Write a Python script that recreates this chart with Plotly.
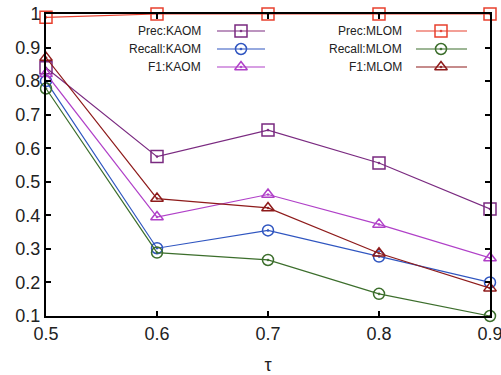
import plotly.graph_objects as go

tau = [0.5, 0.6, 0.7, 0.8, 0.9]
prec_kaom = [0.84, 0.575, 0.654, 0.556, 0.419]
recall_kaom = [0.80, 0.302, 0.355, 0.277, 0.200]
f1_kaom = [0.822, 0.395, 0.462, 0.373, 0.273]
prec_mlom = [0.99, 1.0, 1.0, 1.0, 1.0]
recall_mlom = [0.778, 0.289, 0.267, 0.166, 0.100]
f1_mlom = [0.870, 0.450, 0.422, 0.287, 0.183]

names = ["Prec:KAOM", "Recall:KAOM", "F1:KAOM", "Prec:MLOM", "Recall:MLOM", "F1:MLOM"]
series = [prec_kaom, recall_kaom, f1_kaom, prec_mlom, recall_mlom, f1_mlom]
colors = ["#7a2a80", "#2f55c0", "#b040c8", "#e8402e", "#3c6e2c", "#8e1b1b"]
symbols = ["square-open-dot", "circle-open-dot", "triangle-up-open-dot",
           "square-open-dot", "circle-open-dot", "triangle-up-open-dot"]
sizes = [12, 11, 11, 12, 11, 11]

fig = go.Figure()
for n, s, c, sym, sz in zip(names, series, colors, symbols, sizes):
    fig.add_trace(go.Scatter(
        x=tau, y=s, name=n, mode="lines+markers",
        line=dict(color=c, width=1.2),
        marker=dict(symbol=sym, size=sz, color=c, line=dict(color=c, width=1.5)),
        cliponaxis=False, showlegend=False))

# manual gnuplot-style legend (pixel coordinates on a hidden overlay axis)
rows = [31, 49, 67]
cols = [(203, 217, 265, 241), (404, 416, 467, 441)]
for i, (n, c, sym, sz) in enumerate(zip(names, colors, symbols, sizes)):
    tx, x0, x1, xm = cols[i // 3]
    ry = rows[i % 3]
    fig.add_trace(go.Scatter(
        x=[x0, xm, x1], y=[ry, ry, ry], mode="lines", xaxis="x2", yaxis="y2",
        line=dict(color=c, width=1.2), showlegend=False, hoverinfo="skip",
        cliponaxis=False))
    fig.add_trace(go.Scatter(
        x=[xm], y=[ry], mode="markers", xaxis="x2", yaxis="y2",
        marker=dict(symbol=sym, size=sz, color=c, line=dict(color=c, width=1.5)),
        showlegend=False, hoverinfo="skip", cliponaxis=False))
    fig.add_annotation(x=tx, y=ry, xref="x2", yref="y2", text=n, showarrow=False,
                       xanchor="right", yanchor="middle",
                       font=dict(size=12, color="#222"))

axis_common = dict(showline=True, linecolor="black", linewidth=2, mirror="allticks",
                   ticks="inside", ticklen=5, tickwidth=2, tickcolor="black",
                   showgrid=False, zeroline=False, automargin=False,
                   ticklabeloverflow="allow",
                   tickfont=dict(size=18, color="#222", family="Liberation Sans, Arial"))

fig.update_layout(
    width=501, height=375,
    margin=dict(l=46, r=11, t=14, b=59, autoexpand=False),
    plot_bgcolor="white", paper_bgcolor="white",
    font=dict(family="Liberation Sans, Arial"),
    xaxis=dict(range=[0.5, 0.9], tickvals=tau, ticktext=["0.5", "0.6", "0.7", "0.8", "0.9"],
               title=dict(text="τ", font=dict(size=18, color="#222"), standoff=21),
               **axis_common),
    yaxis=dict(range=[0.1, 1.0], tickvals=[0.1, 0.2, 0.3, 0.4, 0.5, 0.6, 0.7, 0.8, 0.9, 1.0],
               ticktext=["0.1", "0.2", "0.3", "0.4", "0.5", "0.6", "0.7", "0.8", "0.9", "1"],
               **axis_common),
    xaxis2=dict(overlaying="x", range=[46, 490], visible=False),
    yaxis2=dict(overlaying="y", range=[316, 14], visible=False),
)

fig.write_html("out.html", config={"displayModeBar": False},
               post_script="document.body.style.margin='0';document.body.style.overflow='hidden';")
